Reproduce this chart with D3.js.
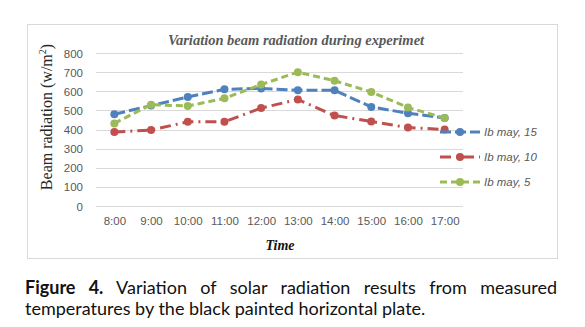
<!DOCTYPE html>
<html>
<head>
<meta charset="utf-8">
<script src="https://cdn.jsdelivr.net/npm/d3@7"></script>
<style>
body { margin: 0; background: #fff; }
.cap { position: absolute; left: 25px; width: 532px; font-family: Lato, "Open Sans", sans-serif; font-size: 18px; line-height: 21px; color: #111; white-space: nowrap; }
#cap1 { top: 277px; text-align: justify; text-align-last: justify; white-space: normal; }
#cap2 { top: 298px; }
</style>
</head>
<body>
<svg width="585" height="327" style="position:absolute;left:0;top:0"></svg>
<div class="cap" id="cap1"><b>Figure 4.</b> Variation of solar radiation results from measured</div>
<div class="cap" id="cap2">temperatures by the black painted horizontal plate.</div>
<script>
var times = ["8:00","9:00","10:00","11:00","12:00","13:00","14:00","15:00","16:00","17:00"];
var may15 = [480, 525, 570, 610, 615, 605, 605, 518, 485, 460];
var may10 = [387, 397, 440, 440, 512, 557, 473, 442, 410, 400];
var may5 = [432, 530, 523, 563, 635, 700, 655, 596, 515, 460];
var yTicks = [0, 100, 200, 300, 400, 500, 600, 700, 800];

var series = [
	{name: "Ib may, 15", values: may15, color: "#4f81bd", dash: "11,4"},
	{name: "Ib may, 10", values: may10, color: "#c0504d", dash: "11,5,2,5"},
	{name: "Ib may, 5", values: may5, color: "#9bbb59", dash: "7,4"}
];

var svg = d3.select("svg");
var plotL = 96, plotR = 463, plotT = 53, plotB = 206;

svg.append("rect")
	.attr("x", 27.5).attr("y", 24.5).attr("width", 530).attr("height", 234)
	.attr("fill", "#fff").attr("stroke", "#d9d9d9");

var x = d3.scalePoint().domain(times).range([plotL, plotR]).padding(0.5);
var y = d3.scaleLinear().domain([0, 800]).range([plotB, plotT]);

svg.append("g").selectAll("line")
	.data(yTicks)
	.enter().append("line")
	.attr("x1", plotL).attr("x2", plotR)
	.attr("y1", function(d) { return Math.round(y(d)) + 0.5; })
	.attr("y2", function(d) { return Math.round(y(d)) + 0.5; })
	.attr("stroke", "#d9d9d9");

var yAxis = svg.append("g")
	.attr("transform", "translate(" + (plotL - 13) + ",0)")
	.call(d3.axisLeft(y).tickValues(yTicks).tickSize(0).tickPadding(0));
var xAxis = svg.append("g")
	.attr("transform", "translate(0," + (plotB + 11) + ")")
	.call(d3.axisBottom(x).tickSize(0).tickPadding(0));
[yAxis, xAxis].forEach(function(a) {
	a.select(".domain").remove();
	a.selectAll("text")
		.attr("fill", "#595959")
		.style("font-family", "Liberation Sans, Arial, sans-serif")
		.style("font-size", "11.5px");
});
yAxis.selectAll("text").attr("dy", "0.35em");

svg.append("text")
	.attr("x", 296).attr("y", 45)
	.attr("text-anchor", "middle")
	.attr("fill", "#595959")
	.style("font-family", "Liberation Serif, serif")
	.style("font-size", "14.5px").style("font-style", "italic").style("font-weight", "bold")
	.text("Variation beam radiation during experimet");

svg.append("text")
	.attr("x", 280).attr("y", 250)
	.attr("text-anchor", "middle")
	.attr("fill", "#111")
	.style("font-family", "Liberation Serif, serif")
	.style("font-size", "14px").style("font-style", "italic").style("font-weight", "bold")
	.text("Time");

var yl = svg.append("text")
	.attr("transform", "translate(52,117) rotate(-90)")
	.attr("text-anchor", "middle")
	.attr("fill", "#262626")
	.style("font-family", "Liberation Serif, serif")
	.style("font-size", "16px");
yl.append("tspan").text("Beam radiation (w/m");
yl.append("tspan").attr("dy", -6).style("font-size", "10px").text("2");
yl.append("tspan").attr("dy", 6).text(")");

var line = d3.line()
	.x(function(d, i) { return x(times[i]); })
	.y(function(d) { return y(d); });

series.forEach(function(s) {
	var g = svg.append("g");
	g.append("path")
		.attr("d", line(s.values))
		.attr("fill", "none")
		.attr("stroke", s.color)
		.attr("stroke-width", 3)
		.attr("stroke-dasharray", s.dash);
	g.selectAll("circle")
		.data(s.values)
		.enter().append("circle")
		.attr("cx", function(d, i) { return x(times[i]); })
		.attr("cy", function(d) { return y(d); })
		.attr("r", 4)
		.attr("fill", s.color);
});

var legend = svg.append("g").selectAll("g")
	.data(series)
	.enter().append("g")
	.attr("transform", function(d, i) { return "translate(440," + (132 + i * 25) + ")"; });
legend.append("line")
	.attr("x1", 0).attr("x2", 40)
	.attr("stroke", function(d) { return d.color; })
	.attr("stroke-width", 3)
	.attr("stroke-dasharray", function(d) { return d.dash; });
legend.append("circle")
	.attr("cx", 20).attr("r", 4)
	.attr("fill", function(d) { return d.color; });
legend.append("text")
	.attr("x", 44).attr("dy", "0.35em")
	.attr("fill", "#595959")
	.style("font-family", "Liberation Sans, Arial, sans-serif")
	.style("font-size", "11.5px").style("font-style", "italic")
	.text(function(d) { return d.name; });
</script>
</body>
</html>
